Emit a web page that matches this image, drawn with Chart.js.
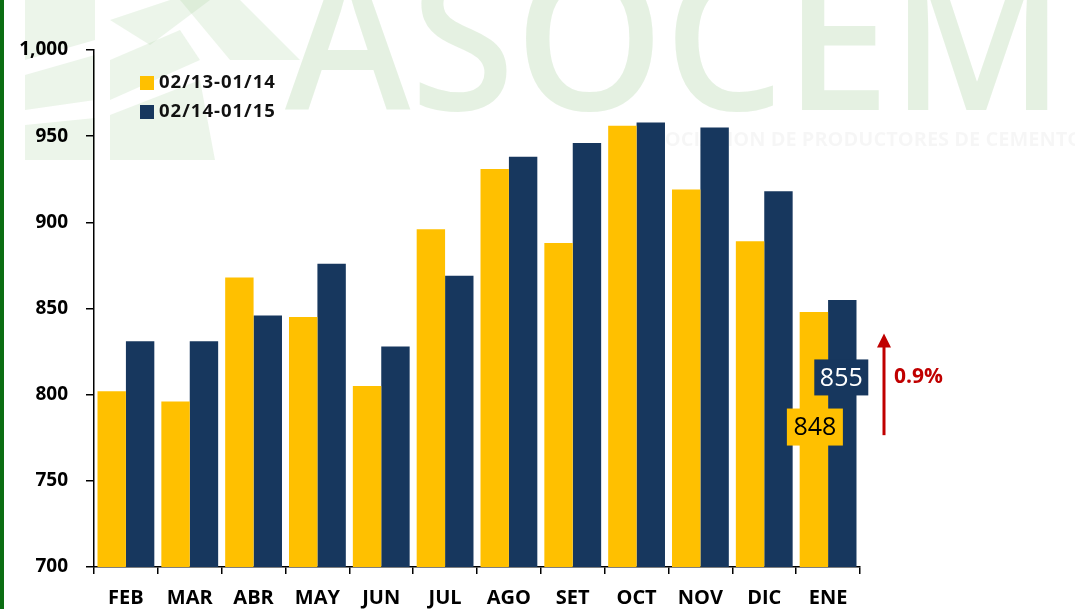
<!DOCTYPE html>
<html>
<head>
<meta charset="utf-8">
<script src="https://cdn.jsdelivr.net/npm/chart.js@4.4.1/dist/chart.umd.min.js"></script>
<style>
  html, body { margin: 0; padding: 0; background: #fff; }
  #wrap { width: 1075px; height: 609px; position: relative; }
</style>
</head>
<body>
<div id="wrap"><canvas id="chart"></canvas></div>
<script>
const months = ["FEB", "MAR", "ABR", "MAY", "JUN", "JUL", "AGO", "SET", "OCT", "NOV", "DIC", "ENE"];
const seriesNames = ["02/13-01/14", "02/14-01/15"];
const prevYear = [802, 796, 868, 845, 805, 896, 931, 888, 956, 919, 889, 848];
const currYear = [831, 831, 846, 876, 828, 869, 938, 946, 958, 955, 918, 855];
const yTicks = [700, 750, 800, 850, 900, 950, 1000];
const changeText = "0.9%";

const YELLOW = "#FFC000";
const NAVY = "#17375E";
const RED = "#C00000";

// background watermark + green left border
const backdrop = {
    id: "backdrop",
    beforeDraw(chart) {
        const ctx = chart.ctx;
        ctx.save();
        ctx.fillStyle = "#fff";
        ctx.fillRect(0, 0, chart.width, chart.height);

        // big pale ASOCEM letters
        ctx.font = "600 200px 'Open Sans'";
        ctx.textBaseline = "alphabetic";
        ctx.textAlign = "left";
        const w = ctx.measureText("ASOCEM").width;
        ctx.translate(285, 110);
        ctx.scale(780 / w, 1);
        ctx.fillStyle = "rgba(170, 210, 160, 0.3)";
        ctx.fillText("ASOCEM", 0, 0);
        ctx.restore();

        ctx.save();
        ctx.font = "bold 20px 'Open Sans'";
        ctx.fillStyle = "rgba(0, 0, 0, 0.035)";
        ctx.textBaseline = "middle";
        ctx.fillText("ASOCIACION DE PRODUCTORES DE CEMENTO", 640, 140);

        // faint logo rays on the left
        ctx.fillStyle = "rgba(170, 210, 160, 0.22)";
        const rays = [
            [[25, 0], [95, 0], [95, 40], [25, 60]],
            [[25, 75], [95, 55], [95, 100], [25, 110]],
            [[25, 125], [95, 118], [95, 160], [25, 160]],
            [[110, 20], [170, 0], [210, 0], [150, 45]],
            [[110, 60], [180, 30], [200, 60], [110, 100]],
            [[110, 115], [200, 80], [215, 160], [110, 160]],
            [[180, 0], [240, 0], [300, 60], [230, 60]]
        ];
        rays.forEach(r => {
            ctx.beginPath();
            ctx.moveTo(r[0][0], r[0][1]);
            for (let i = 1; i < r.length; i++) ctx.lineTo(r[i][0], r[i][1]);
            ctx.closePath();
            ctx.fill();
        });

        ctx.fillStyle = "#0B6E12";
        ctx.fillRect(0, 0, 4, chart.height);
        ctx.restore();
    }
};

// legend, value boxes, arrow and change text
const extras = {
    id: "extras",
    afterDraw(chart) {
        const ctx = chart.ctx;
        const area = chart.chartArea;
        const y = chart.scales.y;
        ctx.save();

        // legend
        const colors = [YELLOW, NAVY];
        ctx.font = "bold 18.5px 'Open Sans'";
        ctx.letterSpacing = "1px";
        ctx.textBaseline = "middle";
        ctx.textAlign = "left";
        seriesNames.forEach((name, i) => {
            const cy = 83 + i * 29;
            ctx.fillStyle = colors[i];
            ctx.fillRect(140, cy - 7, 14, 14);
            ctx.fillStyle = "#111";
            ctx.fillText(name, 159, cy);
        });
        ctx.letterSpacing = "0px";

        // value boxes on the last month
        const last = months.length - 1;
        const barPrev = chart.getDatasetMeta(0).data[last];
        const barCurr = chart.getDatasetMeta(1).data[last];
        ctx.font = "25px 'Open Sans'";
        ctx.textAlign = "center";

        let cx = barCurr.x - 1, cy = y.getPixelForValue(810);
        ctx.fillStyle = NAVY;
        ctx.fillRect(cx - 27, cy - 18, 54, 36);
        ctx.fillStyle = "#fff";
        ctx.fillText(String(currYear[last]), cx, cy + 1);

        cx = barPrev.x + 1; cy = y.getPixelForValue(781.5);
        ctx.fillStyle = YELLOW;
        ctx.fillRect(cx - 28, cy - 18, 56, 37);
        ctx.fillStyle = "#000";
        ctx.fillText(String(prevYear[last]), cx, cy + 1);

        // arrow
        const ax = area.right + 24;
        const yb = y.getPixelForValue(776.5);
        const yt = y.getPixelForValue(835.5);
        ctx.strokeStyle = RED;
        ctx.fillStyle = RED;
        ctx.lineWidth = 3;
        ctx.beginPath();
        ctx.moveTo(ax, yb);
        ctx.lineTo(ax, yt + 10);
        ctx.stroke();
        ctx.beginPath();
        ctx.moveTo(ax, yt);
        ctx.lineTo(ax - 7, yt + 14);
        ctx.lineTo(ax + 7, yt + 14);
        ctx.closePath();
        ctx.fill();

        ctx.font = "bold 21px 'Open Sans'";
        ctx.textAlign = "left";
        ctx.fillText(changeText, ax + 10, y.getPixelForValue(810.5));
        ctx.restore();
    }
};

const chart = new Chart(document.getElementById("chart"), {
    type: "bar",
    data: {
        labels: months,
        datasets: [{
            label: seriesNames[0],
            data: prevYear,
            backgroundColor: YELLOW,
            categoryPercentage: 0.89,
            barPercentage: 1.0
        }, {
            label: seriesNames[1],
            data: currYear,
            backgroundColor: NAVY,
            categoryPercentage: 0.89,
            barPercentage: 1.0
        }]
    },
    options: {
        responsive: true,
        maintainAspectRatio: false,
        animation: false,
        layout: { padding: { top: 50, right: 215, bottom: 0, left: 0 } },
        plugins: {
            legend: { display: false },
            tooltip: { enabled: false }
        },
        scales: {
            x: {
                grid: { display: true, drawOnChartArea: false, offset: true, tickLength: 7, color: "#000", lineWidth: 1.5 },
                border: { display: true, color: "#000", width: 1.5 },
                ticks: { color: "#000", font: { family: "'Open Sans'", size: 20, weight: "bold" }, padding: 12 },
                afterFit(scale) { scale.height = 42; }
            },
            y: {
                min: 700,
                max: 1000,
                afterBuildTicks(scale) { scale.ticks = yTicks.map(v => ({ value: v })); },
                grid: { display: true, drawOnChartArea: false, tickLength: 8, color: "#000", lineWidth: 1.5 },
                border: { display: true, color: "#000", width: 1.5 },
                ticks: {
                    color: "#000",
                    padding: 18,
                    font: { family: "'Open Sans'", size: 19, weight: "bold" },
                    callback: v => v.toLocaleString("en-US")
                },
                afterFit(scale) { scale.width = 94; }
            }
        }
    },
    plugins: [backdrop, extras]
});
</script>
</body>
</html>
